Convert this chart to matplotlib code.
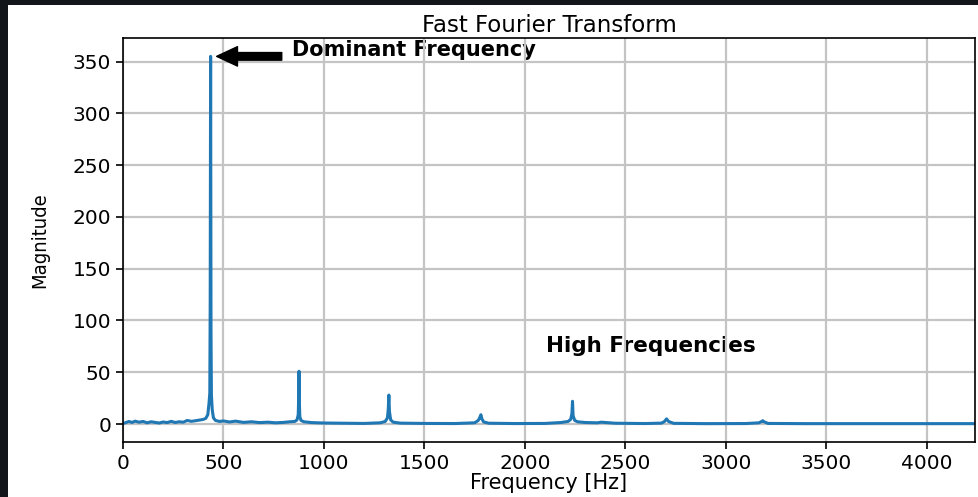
import matplotlib.pyplot as plt
from matplotlib.patches import Rectangle

freq = [0, 15, 30, 45, 60, 80, 100, 120, 140, 160, 180, 200, 220, 240, 260,
        280, 300, 320, 340, 360, 380, 400, 412, 422, 428, 432, 434, 436, 438,
        440, 444, 450, 460, 480, 500, 530, 560, 600, 640, 680, 720, 760, 800,
        830, 855, 866, 872, 875, 876, 877, 880, 886, 900, 940, 1000, 1100,
        1200, 1280, 1305, 1316, 1320, 1323, 1326, 1332, 1345, 1380, 1500,
        1650, 1750, 1768, 1776, 1781, 1786, 1795, 1820, 1950, 2100, 2180,
        2215, 2228, 2234, 2237, 2240, 2248, 2262, 2300, 2360, 2380, 2450,
        2600, 2680, 2695, 2705, 2715, 2740, 2900, 3100, 3165, 3178, 3184,
        3190, 3210, 3400, 3800, 4240]
mag = [0.5, 1.5, 2.5, 1.5, 2.8, 1.8, 2.5, 1.2, 2.2, 1.6, 1.0, 2.0, 1.4, 2.6,
       1.5, 2.2, 1.8, 3.5, 2.6, 3.2, 3.8, 4.5, 5.5, 9, 20, 30, 120, 355, 90,
       28, 14, 6, 3.5, 2.5, 3.0, 2.0, 2.8, 1.6, 2.2, 1.4, 1.8, 1.2, 1.6,
       2.2, 2.5, 4, 9, 30, 51, 25, 7, 3.5, 2.2, 1.4, 1.0, 0.8, 0.6, 1.2, 2.5,
       6, 14, 28, 12, 4, 1.8, 0.9, 0.6, 0.5, 1.2, 3.5, 6.5, 9, 5, 2, 0.8,
       0.5, 0.6, 1.5, 2.5, 4.5, 10, 22, 8, 3.5, 2.2, 1.5, 1.2, 1.8, 0.8,
       0.5, 0.9, 2.5, 5, 2.5, 0.7, 0.4, 0.5, 1.2, 2.5, 3.2, 2.2, 0.6, 0.4,
       0.4, 0.4]

peak_freq = 436
peak_mag = 355

fig = plt.figure(figsize=(9.79, 4.97), dpi=100)
fig.patch.set_facecolor('#12151a')
fig.patches.append(Rectangle((8 / 979, 0), 1, 1 - 5 / 497,
                             transform=fig.transFigure, facecolor='white',
                             edgecolor='none', zorder=-10))
ax = fig.add_axes([123 / 979, 55 / 497, 852 / 979, 404 / 497])

ax.plot(freq, mag, color='#1f77b4', lw=2.2)
ax.set_xlim(0, 4240)
ax.set_xticks(range(0, 4001, 500))
ax.set_yticks(range(0, 351, 50))
ax.grid(True, color='#c4c4c4', lw=1.6)
ax.tick_params(labelsize=14.5, length=5, width=1.2)
for s in ax.spines.values():
    s.set_linewidth(1.2)

ax.set_title('Fast Fourier Transform', fontsize=16.5, pad=4)
ax.set_xlabel('Frequency [Hz]', fontsize=15, labelpad=0)
ax.set_ylabel('Magnitude', fontsize=14.5, fontstretch='condensed',
              family=['DejaVu Sans'], labelpad=17)

ax.annotate('', xy=(peak_freq + 30, peak_mag), xytext=(790, peak_mag),
            arrowprops=dict(facecolor='black', edgecolor='black', width=5.5,
                            headwidth=14, headlength=15, shrink=0))
ax.text(840, 361, 'Dominant Frequency', fontsize=15, fontweight='bold',
        va='center', ha='left', zorder=0)
ax.text(2105, 75, 'High Frequencies', fontsize=15.5, fontweight='bold',
        va='center', ha='left', zorder=0)

fig.savefig('out.png', dpi=100, facecolor=fig.get_facecolor())
